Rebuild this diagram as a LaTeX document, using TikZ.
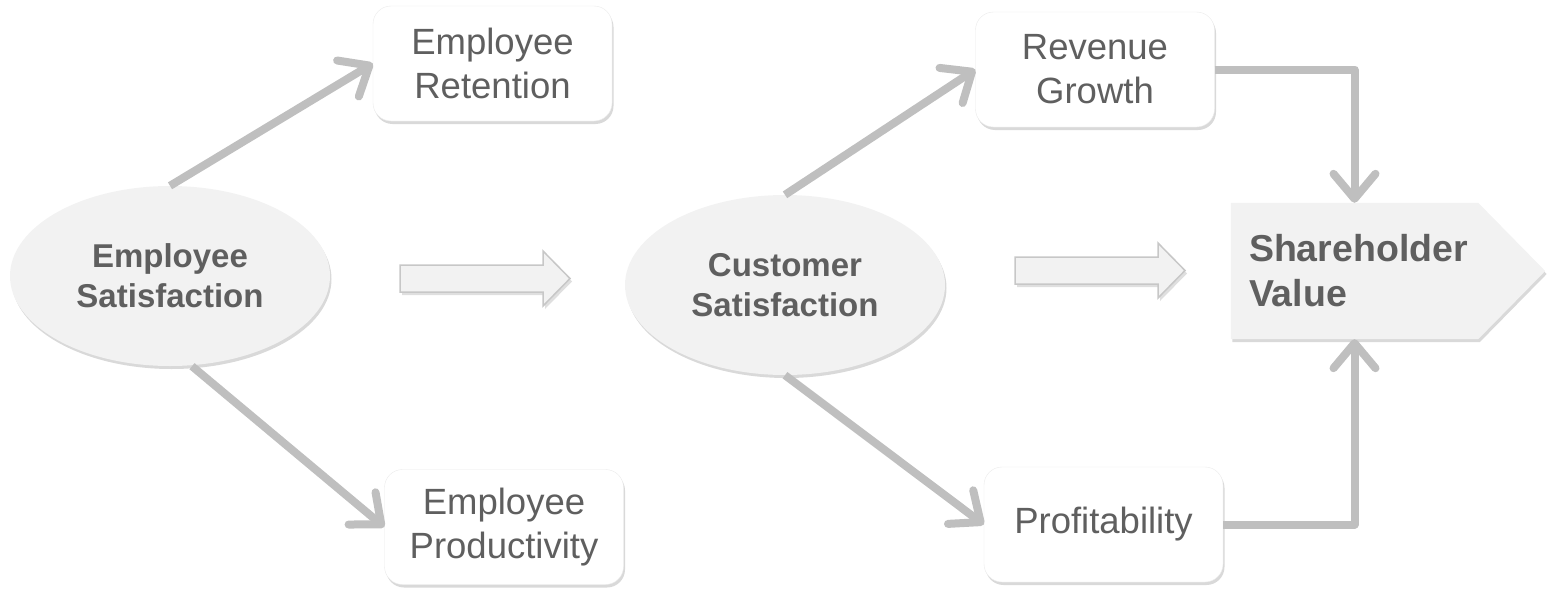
\documentclass[tikz,border=0pt]{standalone}
\usepackage{fontspec}
\setmainfont{Liberation Sans}
\usetikzlibrary{positioning}
\usetikzlibrary{calc}
\usetikzlibrary{shapes.geometric}
\usetikzlibrary{arrows.meta}
\usetikzlibrary{shadows}
\usetikzlibrary{backgrounds}

\definecolor{txtgray}{RGB}{95,95,95}
\definecolor{linegray}{RGB}{191,191,191}
\definecolor{fillgray}{RGB}{242,242,242}

\tikzset{
    outcome/.style={draw=black!8, fill=white, rounded corners=18pt, minimum width=239pt, minimum height=115pt, inner sep=0pt, align=center, text=txtgray, font=\fontsize{36.5}{44}\selectfont, drop shadow={shadow xshift=1.5pt, shadow yshift=-3pt, opacity=0.3}},
    driver/.style={ellipse, fill=fillgray, minimum width=320pt, minimum height=180pt, inner sep=0pt, align=center, text=txtgray, font=\fontsize{33}{40}\selectfont\bfseries, drop shadow={shadow xshift=1.5pt, shadow yshift=-3pt, opacity=0.3}},
    link/.style={draw=linegray, line width=8pt, line join=round, -{Straight Barb[round,length=25pt,width=42pt]}},
    blockarrow/.style={draw=black!22, line width=1.5pt, fill=fillgray, drop shadow={shadow xshift=2pt, shadow yshift=-3pt, opacity=0.25}},
}

\begin{document}
\begin{tikzpicture}[x=1pt, y=-1pt]
    \useasboundingbox (0,0) rectangle (1556,605);

    % left half
    \node[driver] (es) at (170,276) {Employee\\Satisfaction};
    \node[outcome] (er) at (492.5,63.5) {Employee\\Retention};
    \node[outcome] (ep) at (504,527) {Employee\\Productivity};

    % right half
    \node[driver] (cs) at (785,285) {Customer\\Satisfaction};
    \node[outcome] (rg) at (1095,69.5) {Revenue\\Growth};
    \node[outcome] (pf) at (1103.5,524.5) {Profitability};

    \node[minimum width=247pt, minimum height=136pt, text width=211pt, inner xsep=18pt, align=left, text=txtgray, font=\fontsize{37.5}{45}\selectfont\bfseries] (sv) at (1354.5,271) {Shareholder\\Value};
    \begin{scope}[on background layer]
        \fill[fillgray, drop shadow={shadow xshift=1.5pt, shadow yshift=-3pt, opacity=0.3}] (sv.north west) -- (sv.north east) -- ($(sv.east)+(67,0)$) -- (sv.south east) -- (sv.south west) -- cycle;
    \end{scope}

    % block arrows
    \draw[blockarrow] (400,265) -- (543,265) -- (543,251) -- (570,278.5) -- (543,306) -- (543,292) -- (400,292) -- cycle;
    \draw[blockarrow] (1015,257) -- (1158,257) -- (1158,243) -- (1185,270.5) -- (1158,298) -- (1158,284) -- (1015,284) -- cycle;

    % connectors
    \draw[link] (es.north) -- (er.west);
    \draw[link] ([xshift=22pt]es.south) -- (ep.west);
    \draw[link] (cs.north) -- (rg.west);
    \draw[link] (cs.south) -- (pf.west);
    \draw[link] (rg.east) -| (sv.north);
    \draw[link] (pf.east) -| (sv.south);
\end{tikzpicture}
\end{document}
